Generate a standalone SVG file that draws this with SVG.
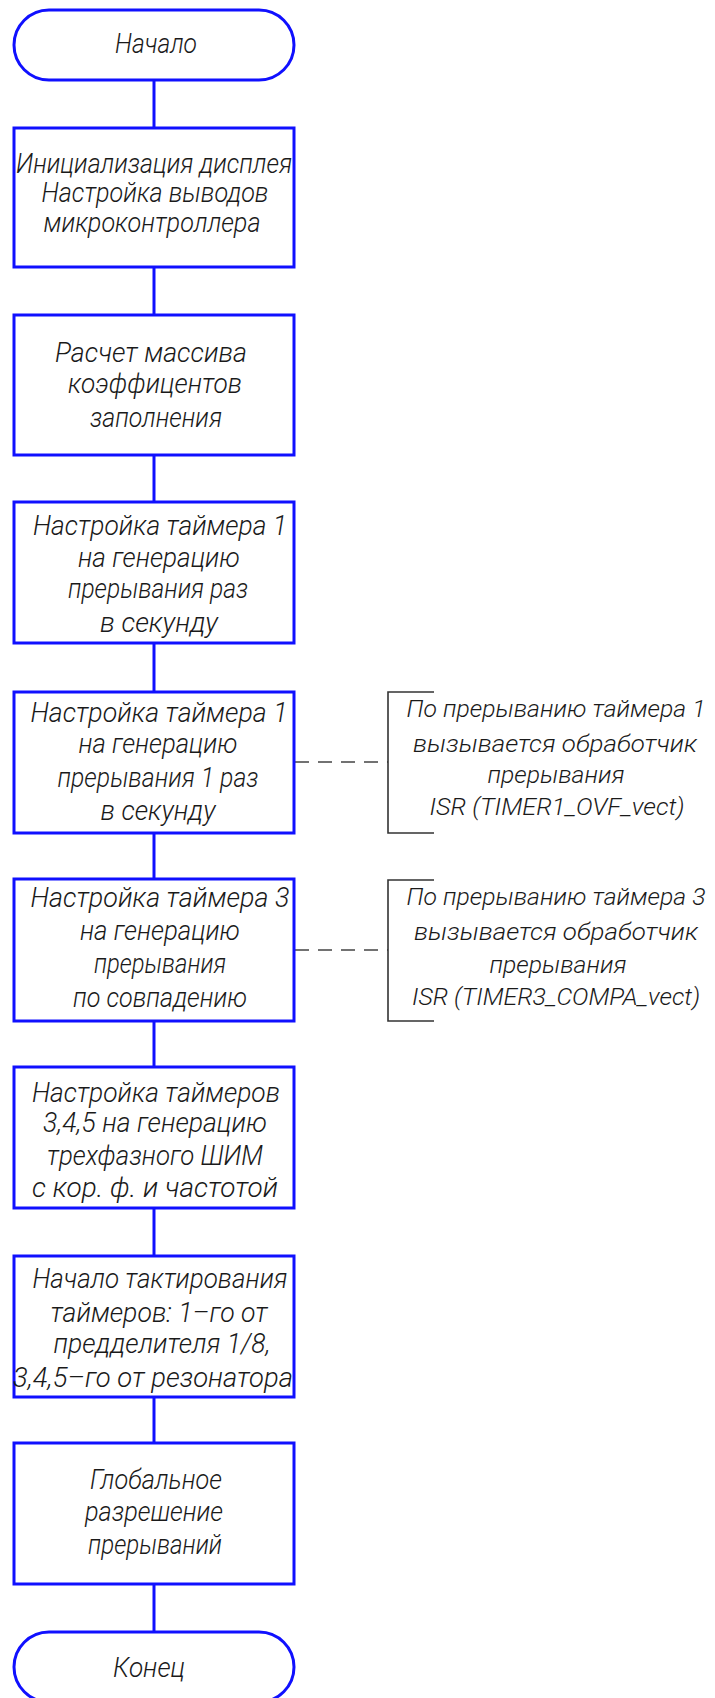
<svg xmlns="http://www.w3.org/2000/svg" width="715" height="1698" viewBox="0 0 715 1698">
  <style>
    .shape { fill: #ffffff; stroke: #1010ff; stroke-width: 3; }
    .flow { stroke: #1010ff; stroke-width: 3; fill: none; }
    .note { stroke: #333333; stroke-width: 1.6; fill: none; }
    .dash { stroke: #444444; stroke-width: 1.6; stroke-dasharray: 14 9; fill: none; }
    text { font-family: "Roboto", "Liberation Sans", "DejaVu Sans", sans-serif; font-weight: 300; font-style: italic; font-size: 27px; fill: #1a1a1a; text-anchor: middle; }
    .note-text { font-size: 24px; }
  </style>
  <rect width="715" height="1698" fill="#ffffff"/>

  <!-- vertical flow connectors and dashed comment leaders -->
  <g id="connectors">
    <line class="flow" x1="154" y1="80" x2="154" y2="128"/>
    <line class="flow" x1="154" y1="267" x2="154" y2="315"/>
    <line class="flow" x1="154" y1="455" x2="154" y2="502"/>
    <line class="flow" x1="154" y1="643" x2="154" y2="692"/>
    <line class="flow" x1="154" y1="833" x2="154" y2="879"/>
    <line class="flow" x1="154" y1="1021" x2="154" y2="1067"/>
    <line class="flow" x1="154" y1="1208" x2="154" y2="1256"/>
    <line class="flow" x1="154" y1="1397" x2="154" y2="1443"/>
    <line class="flow" x1="154" y1="1584" x2="154" y2="1632"/>
    <line class="dash" x1="295" y1="762" x2="388" y2="762"/>
    <line class="dash" x1="295" y1="950" x2="388" y2="950"/>
  </g>

  <g id="start">
    <rect class="shape" x="14" y="10" width="280" height="70" rx="35" ry="35"/>
    <text x="156" y="53" textLength="82" lengthAdjust="spacingAndGlyphs">Начало</text>
  </g>

  <g id="init">
    <rect class="shape" x="14" y="128" width="280" height="139"/>
    <text x="154" y="173" textLength="276" lengthAdjust="spacingAndGlyphs">Инициализация дисплея</text>
    <text x="155" y="202" textLength="227" lengthAdjust="spacingAndGlyphs">Настройка выводов</text>
    <text x="152" y="232" textLength="217" lengthAdjust="spacingAndGlyphs">микроконтроллера</text>
  </g>

  <g id="duty-table">
    <rect class="shape" x="14" y="315" width="280" height="140"/>
    <text x="151" y="362" textLength="192" lengthAdjust="spacingAndGlyphs">Расчет массива</text>
    <text x="155" y="393" textLength="174" lengthAdjust="spacingAndGlyphs">коэффицентов</text>
    <text x="156" y="427" textLength="132" lengthAdjust="spacingAndGlyphs">заполнения</text>
  </g>

  <g id="timer1-a">
    <rect class="shape" x="14" y="502" width="280" height="141"/>
    <text x="160" y="535" textLength="254" lengthAdjust="spacingAndGlyphs">Настройка таймера 1</text>
    <text x="159" y="567" textLength="162" lengthAdjust="spacingAndGlyphs">на генерацию</text>
    <text x="158" y="598" textLength="180" lengthAdjust="spacingAndGlyphs">прерывания раз</text>
    <text x="159" y="632" textLength="118" lengthAdjust="spacingAndGlyphs">в секунду</text>
  </g>

  <g id="timer1-b">
    <rect class="shape" x="14" y="692" width="280" height="141"/>
    <text x="159" y="722" textLength="257" lengthAdjust="spacingAndGlyphs">Настройка таймера 1</text>
    <text x="158" y="753" textLength="159" lengthAdjust="spacingAndGlyphs">на генерацию</text>
    <text x="158" y="787" textLength="201" lengthAdjust="spacingAndGlyphs">прерывания 1 раз</text>
    <text x="158" y="820" textLength="115" lengthAdjust="spacingAndGlyphs">в секунду</text>
  </g>

  <g id="note-timer1">
    <polyline class="note" points="434,692 388,692 388,833 434,833"/>
    <text class="note-text" x="556" y="717" textLength="299" lengthAdjust="spacingAndGlyphs">По прерыванию таймера 1</text>
    <text class="note-text" x="555" y="752" textLength="284" lengthAdjust="spacingAndGlyphs">вызывается обработчик</text>
    <text class="note-text" x="556" y="783" textLength="137" lengthAdjust="spacingAndGlyphs">прерывания</text>
    <text class="note-text" x="557" y="815" textLength="255" lengthAdjust="spacingAndGlyphs">ISR (TIMER1_OVF_vect)</text>
  </g>

  <g id="timer3">
    <rect class="shape" x="14" y="879" width="280" height="142"/>
    <text x="160" y="907" textLength="259" lengthAdjust="spacingAndGlyphs">Настройка таймера 3</text>
    <text x="160" y="940" textLength="160" lengthAdjust="spacingAndGlyphs">на генерацию</text>
    <text x="160" y="973" textLength="132" lengthAdjust="spacingAndGlyphs">прерывания</text>
    <text x="160" y="1007" textLength="174" lengthAdjust="spacingAndGlyphs">по совпадению</text>
  </g>

  <g id="note-timer3">
    <polyline class="note" points="434,880 388,880 388,1021 434,1021"/>
    <text class="note-text" x="556" y="905" textLength="299" lengthAdjust="spacingAndGlyphs">По прерыванию таймера 3</text>
    <text class="note-text" x="556" y="940" textLength="284" lengthAdjust="spacingAndGlyphs">вызывается обработчик</text>
    <text class="note-text" x="558" y="973" textLength="137" lengthAdjust="spacingAndGlyphs">прерывания</text>
    <text class="note-text" x="556" y="1005" textLength="288" lengthAdjust="spacingAndGlyphs">ISR (TIMER3_COMPA_vect)</text>
  </g>

  <g id="pwm-setup">
    <rect class="shape" x="14" y="1067" width="280" height="141"/>
    <text x="156" y="1102" textLength="248" lengthAdjust="spacingAndGlyphs">Настройка таймеров</text>
    <text x="155" y="1132" textLength="224" lengthAdjust="spacingAndGlyphs">3,4,5 на генерацию</text>
    <text x="155" y="1165" textLength="216" lengthAdjust="spacingAndGlyphs">трехфазного ШИМ</text>
    <text x="155" y="1197" textLength="246" lengthAdjust="spacingAndGlyphs">с кор. ф. и частотой</text>
  </g>

  <g id="clock-start">
    <rect class="shape" x="14" y="1256" width="280" height="141"/>
    <text x="160" y="1288" textLength="255" lengthAdjust="spacingAndGlyphs">Начало тактирования</text>
    <text x="159" y="1322" textLength="217" lengthAdjust="spacingAndGlyphs">таймеров: 1–го от</text>
    <text x="162" y="1353" textLength="217" lengthAdjust="spacingAndGlyphs">предделителя 1/8,</text>
    <text x="153" y="1387" textLength="280" lengthAdjust="spacingAndGlyphs">3,4,5–го от резонатора</text>
  </g>

  <g id="global-irq">
    <rect class="shape" x="14" y="1443" width="280" height="141"/>
    <text x="156" y="1489" textLength="132" lengthAdjust="spacingAndGlyphs">Глобальное</text>
    <text x="154" y="1521" textLength="138" lengthAdjust="spacingAndGlyphs">разрешение</text>
    <text x="155" y="1554" textLength="134" lengthAdjust="spacingAndGlyphs">прерываний</text>
  </g>

  <g id="end">
    <rect class="shape" x="14" y="1632" width="280" height="70" rx="35" ry="35"/>
    <text x="149" y="1677" textLength="72" lengthAdjust="spacingAndGlyphs">Конец</text>
  </g>
</svg>
